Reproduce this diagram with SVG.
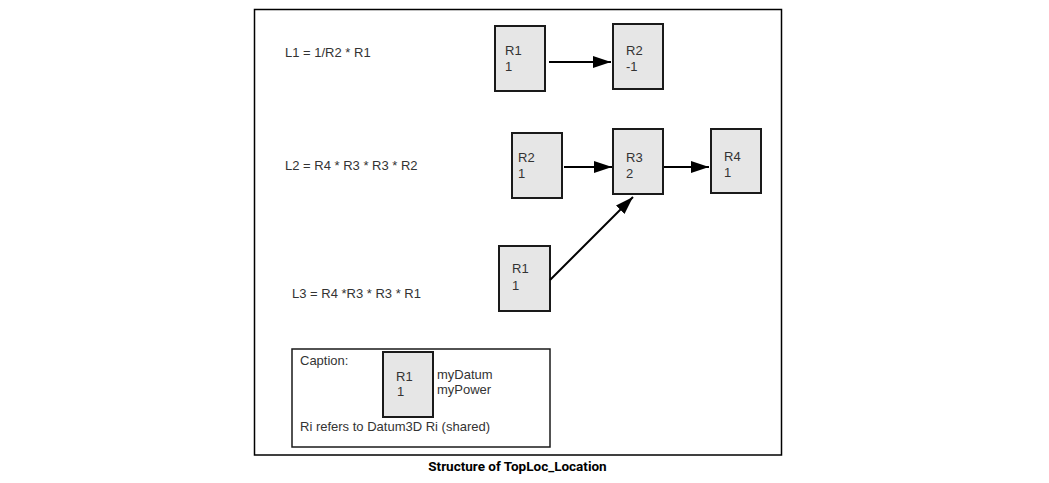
<svg xmlns="http://www.w3.org/2000/svg" width="1049" height="483" viewBox="0 0 1049 483">
<defs>
<style>
.t{font-family:"Liberation Sans",Arial,sans-serif;font-size:13px;fill:#333}
.box{fill:#e6e6e6;stroke:#1a1a1a;stroke-width:2}
.ln{stroke:#000;stroke-width:2;fill:none}
.title{font-family:Roboto,"Liberation Sans",sans-serif;font-weight:bold;font-size:13.5px;fill:#000}
</style>
<marker id="ah" markerUnits="userSpaceOnUse" markerWidth="18" markerHeight="12" refX="18" refY="6" orient="auto" viewBox="0 0 18 12">
<path d="M0,0 L18,6 L0,12 z" fill="#000"/>
</marker>
</defs>
<rect x="0" y="0" width="1049" height="483" fill="#fff"/>
<rect id="frame" x="254.5" y="9.5" width="527" height="445.5" fill="none" stroke="#000" stroke-width="1.5"/>
<g id="labels">
<text class="t" x="285" y="57">L1 = 1/R2 * R1</text>
<text class="t" x="285" y="170">L2 = R4 * R3 * R3 * R2</text>
<text class="t" x="292" y="298">L3 = R4 *R3 * R3 * R1</text>
</g>
<g id="n_r1a"><rect class="box" x="495" y="26" width="50" height="65"/><text class="t" x="505" y="55">R1</text><text class="t" x="505" y="71">1</text></g>
<g id="n_r2a"><rect class="box" x="613" y="24" width="50" height="65"/><text class="t" x="626" y="55">R2</text><text class="t" x="626" y="71">-1</text></g>
<g id="n_r2b"><rect class="box" x="512" y="133" width="50" height="65"/><text class="t" x="518" y="162">R2</text><text class="t" x="518" y="178">1</text></g>
<g id="n_r3"><rect class="box" x="613" y="129" width="50" height="65"/><text class="t" x="626" y="162">R3</text><text class="t" x="626" y="178">2</text></g>
<g id="n_r4"><rect class="box" x="711" y="129" width="50" height="64"/><text class="t" x="724" y="161">R4</text><text class="t" x="724" y="177">1</text></g>
<g id="n_r1c"><rect class="box" x="499" y="246" width="51" height="65"/><text class="t" x="512" y="273">R1</text><text class="t" x="512" y="290">1</text></g>
<g id="connectors">
<line class="ln" x1="549" y1="62" x2="611" y2="62" marker-end="url(#ah)"/>
<line class="ln" x1="564" y1="167" x2="612" y2="167" marker-end="url(#ah)"/>
<line class="ln" x1="664" y1="167" x2="709" y2="167" marker-end="url(#ah)"/>
<line class="ln" x1="550" y1="280" x2="633" y2="197" marker-end="url(#ah)"/>
</g>
<g id="caption">
<rect x="292" y="349" width="258" height="98" fill="#fff" stroke="#1a1a1a" stroke-width="1.5"/>
<text class="t" x="300" y="365">Caption:</text>
<rect class="box" x="383" y="352" width="50" height="65"/>
<text class="t" x="396" y="381">R1</text>
<text class="t" x="397" y="396">1</text>
<text class="t" x="437" y="379">myDatum</text>
<text class="t" x="437" y="394">myPower</text>
<text class="t" x="300" y="431">Ri refers to Datum3D Ri (shared)</text>
</g>
<text id="figtitle" class="title" x="517.5" y="471" text-anchor="middle">Structure of TopLoc_Location</text>
</svg>
